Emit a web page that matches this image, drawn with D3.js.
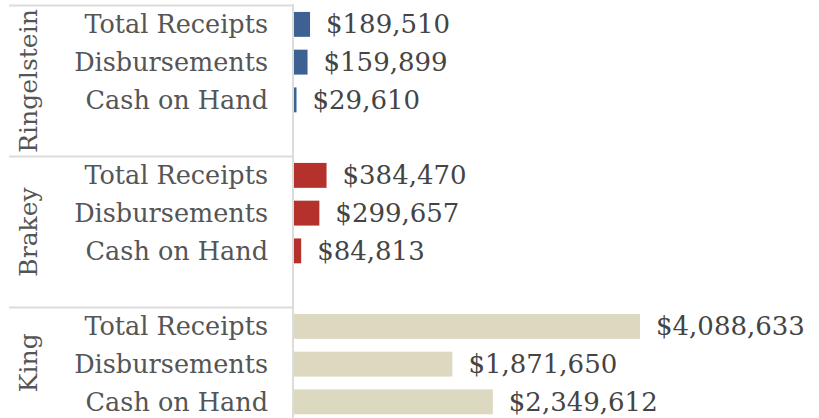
<!DOCTYPE html>
<html>
<head>
<meta charset="utf-8">
<script src="https://cdn.jsdelivr.net/npm/d3@7"></script>
<style>
  body { margin: 0; background: #fff; }
  svg text { font-family: "DejaVu Serif", Georgia, serif; }
</style>
</head>
<body>
<div id="chart"></div>
<script>
// daten
const candidates = ["Ringelstein", "Brakey", "King"];
const measures = ["Total Receipts", "Disbursements", "Cash on Hand"];
const ringelstein = [189510, 159899, 29610];
const brakey = [384470, 299657, 84813];
const king = [4088633, 1871650, 2349612];
const colors = ["#3d6193", "#b5312b", "#ddd8c0"];

const allValues = [ringelstein, brakey, king];

const width = 819, height = 418;
const panelH = 151;

const svg = d3.select("#chart").append("svg")
  .attr("width", width)
  .attr("height", height);

// skalen
const panel = d3.scaleBand()
  .domain(candidates)
  .range([5.5, 5.5 + panelH * 3]);

// 4 zeilen pro panel, die letzte bleibt leer
const row = d3.scaleBand()
  .domain(measures)
  .range([0, panelH * 3 / 4])
  .paddingInner(0.34)
  .paddingOuter(0.17);

const x = d3.scaleLinear()
  .domain([0, d3.max(king)])
  .range([294, 640]);

// trennlinien
svg.selectAll(".sep")
  .data(candidates)
  .enter().append("line")
  .attr("x1", 9)
  .attr("x2", 292)
  .attr("y1", d => Math.round(panel(d)) - 0.5)
  .attr("y2", d => Math.round(panel(d)) - 0.5)
  .attr("stroke", "#dcdcdc")
  .attr("stroke-width", 2);

// achse
svg.append("line")
  .attr("x1", 293).attr("x2", 293)
  .attr("y1", 4).attr("y2", height)
  .attr("stroke", "#dcdcdc")
  .attr("stroke-width", 2);

candidates.forEach(function(c, i) {
  const g = svg.append("g")
    .attr("transform", "translate(0," + panel(c) + ")");

  const rows = measures.map((m, j) => ({ m: m, v: allValues[i][j] }));

  g.selectAll("rect")
    .data(rows)
    .enter().append("rect")
    .attr("x", x(0))
    .attr("y", d => row(d.m))
    .attr("width", d => Math.max(1.5, x(d.v) - x(0)))
    .attr("height", row.bandwidth())
    .attr("fill", colors[i]);

  g.selectAll(".rowlabel")
    .data(rows)
    .enter().append("text")
    .attr("class", "rowlabel")
    .attr("x", 268)
    .attr("y", d => row(d.m) + row.bandwidth() / 2)
    .attr("dy", "0.35em")
    .attr("text-anchor", "end")
    .attr("fill", "#555")
    .style("font-size", "25.5px")
    .text(d => d.m);

  g.selectAll(".value")
    .data(rows)
    .enter().append("text")
    .attr("class", "value")
    .attr("x", d => Math.max(x(d.v), x(0) + 2) + 16)
    .attr("y", d => row(d.m) + row.bandwidth() / 2)
    .attr("dy", "0.35em")
    .attr("fill", "#444")
    .style("font-size", "26px")
    .text(d => d3.format("$,")(d.v));

  // kandidatenname, im sichtbaren bereich zentriert
  const top = panel(c);
  const bottom = Math.min(top + panel.bandwidth(), height);
  const cy = (top + bottom) / 2 - top;
  g.append("text")
    .attr("transform", "translate(28," + cy + ") rotate(-90)")
    .attr("text-anchor", "middle")
    .attr("dy", "0.35em")
    .attr("fill", "#555")
    .style("font-size", "25px")
    .text(c);
});
</script>
</body>
</html>
